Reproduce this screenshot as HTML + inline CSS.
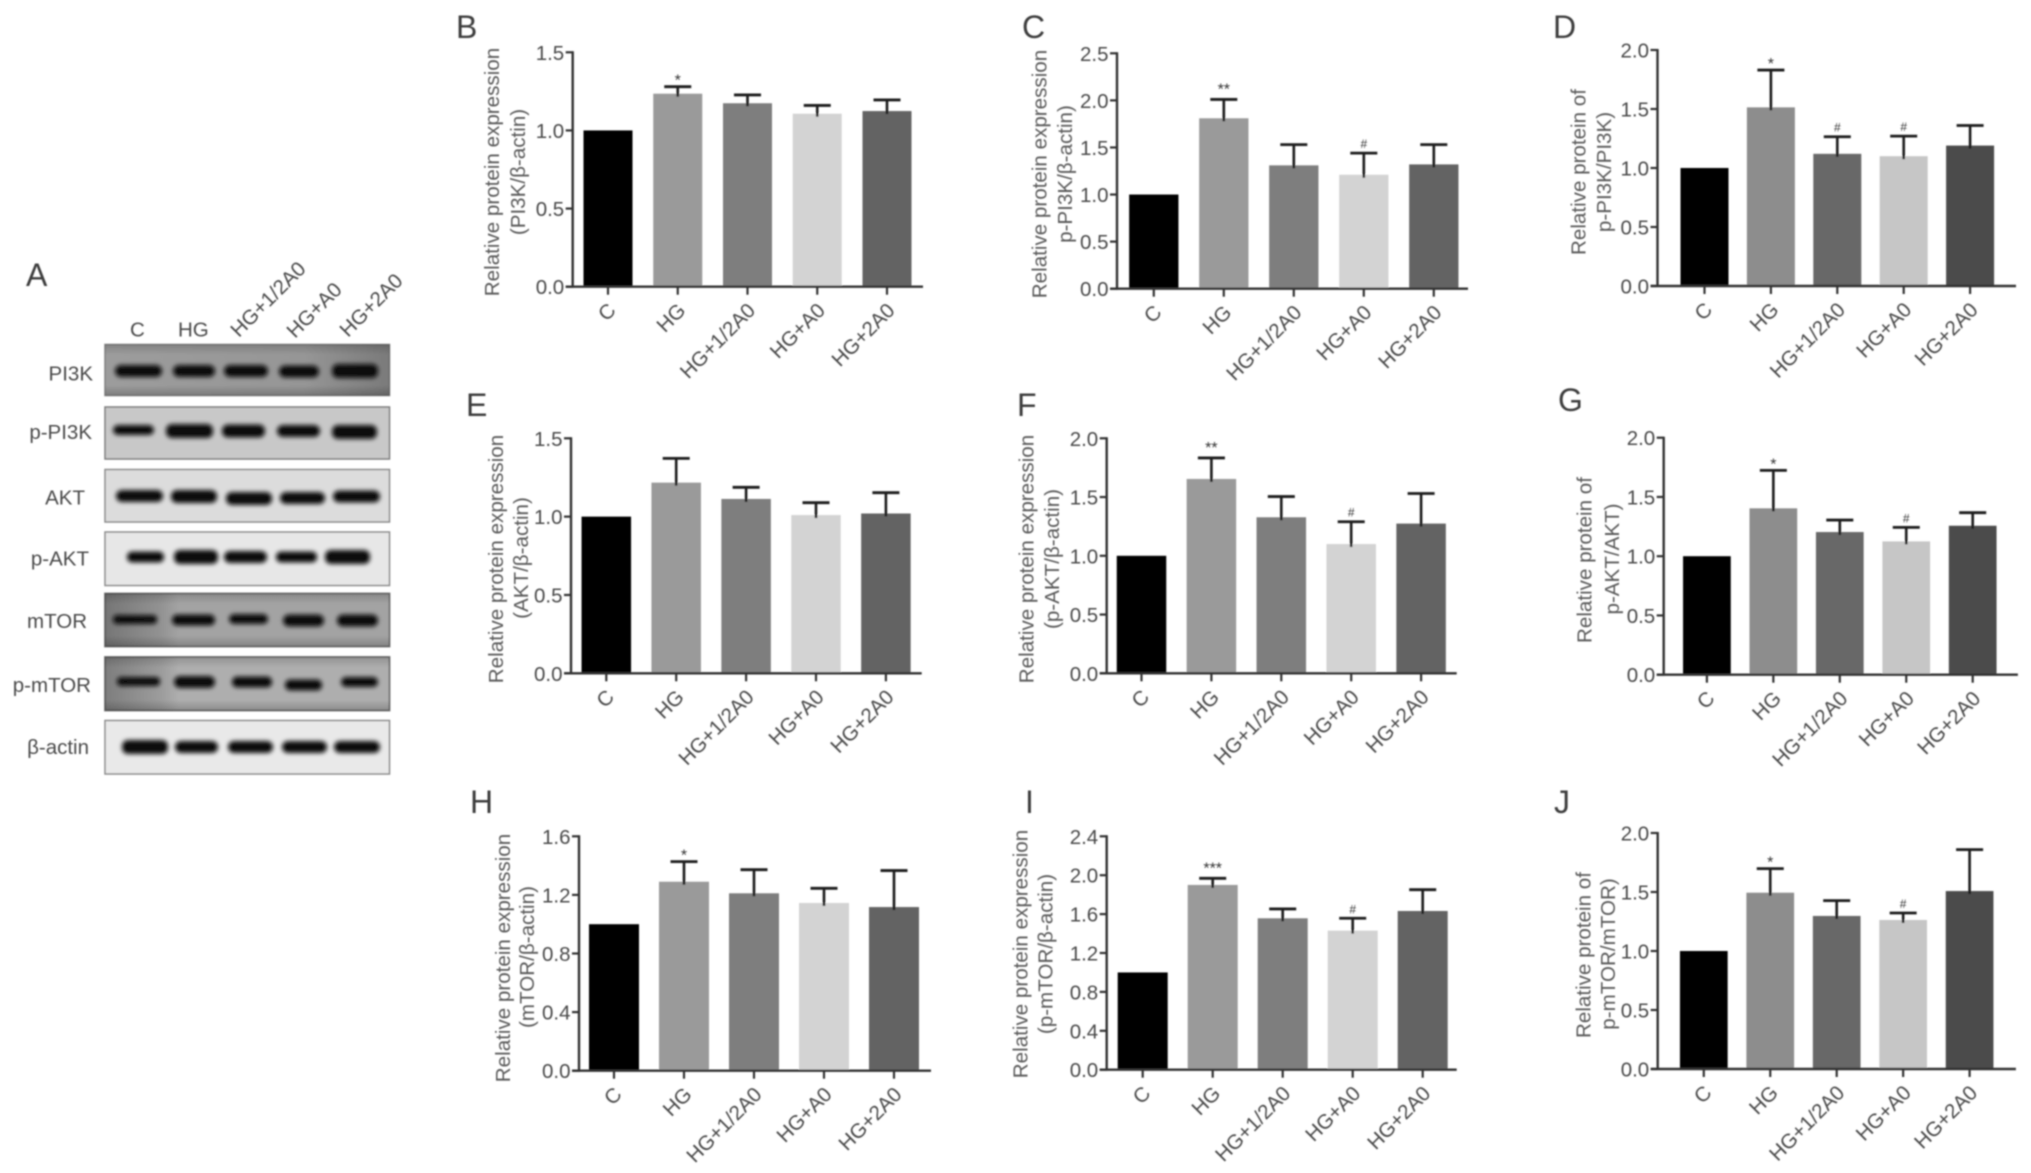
<!DOCTYPE html>
<html lang="en">
<head>
<meta charset="utf-8">
<title>Western blot and relative protein expression charts</title>
<style>
html,body{margin:0;padding:0;background:#fff;}
svg{display:block;}
text{font-family:"Liberation Sans","DejaVu Sans",sans-serif;fill:#4a4a4a;}
.letter{font-size:32px;fill:#3c3c3c;}
.title{font-size:20.6px;text-anchor:middle;fill:#5a5a5a;}
.tick{font-size:20.5px;}
.blot-label{font-size:20.5px;text-anchor:end;}
</style>
</head>
<body>
<svg id="figure" xmlns="http://www.w3.org/2000/svg" width="2031" height="1173" viewBox="0 0 2031 1173">
<defs>
<filter id="soft" x="-2%" y="-2%" width="104%" height="104%"><feGaussianBlur stdDeviation="0.7"/></filter>
<filter id="band-blur" x="-20%" y="-60%" width="140%" height="220%"><feGaussianBlur stdDeviation="2.2"/></filter>
<linearGradient id="left-dark" x1="0" x2="1" y1="0" y2="0">
<stop offset="0" stop-color="#000" stop-opacity="0.28"/>
<stop offset="0.2" stop-color="#000" stop-opacity="0.1"/>
<stop offset="0.26" stop-color="#000" stop-opacity="0"/>
<stop offset="1" stop-color="#000" stop-opacity="0"/>
</linearGradient>
<linearGradient id="right-dark" x1="0" x2="1" y1="0" y2="0">
<stop offset="0" stop-color="#000" stop-opacity="0"/>
<stop offset="0.7" stop-color="#000" stop-opacity="0.04"/>
<stop offset="1" stop-color="#000" stop-opacity="0.22"/>
</linearGradient>
<linearGradient id="edge-dark" x1="0" x2="0" y1="0" y2="1">
<stop offset="0" stop-color="#000" stop-opacity="0.16"/>
<stop offset="0.2" stop-color="#000" stop-opacity="0"/>
<stop offset="0.8" stop-color="#000" stop-opacity="0"/>
<stop offset="1" stop-color="#000" stop-opacity="0.2"/>
</linearGradient>
</defs>
<rect width="2031" height="1173" fill="#fff"/>
<g filter="url(#soft)">

<g>
<text class="letter" x="26" y="286">A</text>
<text class="letter" x="456" y="38">B</text>
<text class="letter" x="1022" y="38">C</text>
<text class="letter" x="1553" y="38">D</text>
<text class="letter" x="466" y="416">E</text>
<text class="letter" x="1017" y="416">F</text>
<text class="letter" x="1558" y="411">G</text>
<text class="letter" x="470" y="813">H</text>
<text class="letter" x="1025" y="813">I</text>
<text class="letter" x="1554" y="813">J</text>
</g>

<g>
<text class="tick" x="130" y="336.5">C</text>
<text class="tick" x="178" y="336.5">HG</text>
<text class="tick" text-anchor="end" transform="translate(307,270) rotate(-45)">HG+1/2A0</text>
<text class="tick" text-anchor="end" transform="translate(343,291) rotate(-45)">HG+A0</text>
<text class="tick" text-anchor="end" transform="translate(404,282) rotate(-45)">HG+2A0</text>

<text class="blot-label" x="93" y="380.5">PI3K</text>
<text class="blot-label" x="92" y="439">p-PI3K</text>
<text class="blot-label" x="85" y="504.5">AKT</text>
<text class="blot-label" x="89" y="565.5">p-AKT</text>
<text class="blot-label" x="87" y="628">mTOR</text>
<text class="blot-label" x="91" y="692">p-mTOR</text>
<text class="blot-label" x="89" y="754">β-actin</text>

<rect x="105" y="344.5" width="284.5" height="51" fill="#9c9c9c" stroke="#808080" stroke-width="1.5"/>
<rect x="105" y="344.5" width="284.5" height="51" fill="url(#edge-dark)"/>
<rect x="105" y="344.5" width="284.5" height="51" fill="url(#right-dark)"/>
<rect x="105" y="407" width="284.5" height="52" fill="#c8c8c8" stroke="#7c7c7c" stroke-width="1.5"/>
<rect x="105" y="469.5" width="284.5" height="52.5" fill="#dcdcdc" stroke="#8a8a8a" stroke-width="1.5"/>
<rect x="105" y="532" width="284.5" height="53.5" fill="#e7e7e7" stroke="#8a8a8a" stroke-width="1.5"/>
<rect x="105" y="593.5" width="284.5" height="53" fill="#a3a3a3" stroke="#707070" stroke-width="1.8"/>
<rect x="105" y="593.5" width="284.5" height="53" fill="url(#edge-dark)"/>
<rect x="105" y="593.5" width="284.5" height="53" fill="url(#left-dark)"/>
<rect x="105" y="657" width="284.5" height="53.5" fill="#aeaeae" stroke="#707070" stroke-width="1.8"/>
<rect x="105" y="657" width="284.5" height="53.5" fill="url(#edge-dark)"/>
<rect x="105" y="657" width="284.5" height="53.5" fill="url(#left-dark)"/>
<rect x="105" y="720.5" width="284.5" height="53.5" fill="#e9e9e9" stroke="#8a8a8a" stroke-width="1.5"/>

<g fill="#0a0a0a" filter="url(#band-blur)">
<rect x="115" y="365" width="47" height="12" rx="6"/>
<rect x="173" y="365" width="42" height="12" rx="6"/>
<rect x="224" y="365" width="44" height="12" rx="6"/>
<rect x="279" y="365.5" width="40" height="12" rx="6"/>
<rect x="332" y="364" width="46" height="14" rx="6"/>
<rect x="113" y="425" width="41" height="10" rx="5"/>
<rect x="166" y="424" width="47" height="14" rx="6"/>
<rect x="222" y="424.5" width="43" height="13" rx="6"/>
<rect x="277" y="425" width="43" height="12" rx="6"/>
<rect x="332" y="425" width="45" height="14" rx="6"/>
<rect x="116" y="490" width="47" height="12" rx="6"/>
<rect x="171" y="490" width="46" height="13" rx="6"/>
<rect x="226" y="492" width="46" height="13" rx="6"/>
<rect x="280" y="492" width="45" height="12" rx="6"/>
<rect x="333" y="490.5" width="47" height="12" rx="6"/>
<rect x="127" y="551.5" width="37" height="11" rx="5"/>
<rect x="174" y="550" width="44" height="14" rx="6"/>
<rect x="224" y="551" width="43" height="12" rx="6"/>
<rect x="276" y="551.5" width="41" height="11" rx="5"/>
<rect x="325" y="550" width="45" height="14" rx="6"/>
<rect x="113" y="615" width="44" height="9" rx="4"/>
<rect x="172" y="614.5" width="43" height="11" rx="5"/>
<rect x="229" y="614" width="39" height="10" rx="5"/>
<rect x="283" y="614.5" width="41" height="12" rx="6"/>
<rect x="337" y="614.5" width="41" height="12" rx="6"/>
<rect x="117" y="677" width="43" height="9" rx="4"/>
<rect x="174" y="676" width="41" height="12" rx="6"/>
<rect x="232" y="676.5" width="40" height="11" rx="5"/>
<rect x="285" y="679.5" width="37" height="11" rx="5"/>
<rect x="341" y="677" width="37" height="10" rx="5"/>
<rect x="122" y="740" width="46" height="14" rx="6"/>
<rect x="175" y="741" width="43" height="12" rx="6"/>
<rect x="228" y="741" width="45" height="12" rx="6"/>
<rect x="282" y="741" width="45" height="12" rx="6"/>
<rect x="334" y="741" width="46" height="12" rx="6"/>
</g>
</g>

<g>
<text class="title" transform="translate(499,172) rotate(-90)">Relative protein expression</text>
<text class="title" transform="translate(525,172) rotate(-90)">(PI3K/β-actin)</text>
<text class="title" transform="translate(1046.5,174) rotate(-90)">Relative protein expression</text>
<text class="title" transform="translate(1072,174) rotate(-90)">p-PI3K/β-actin)</text>
<text class="title" transform="translate(1585.6,172) rotate(-90)">Relative protein of</text>
<text class="title" transform="translate(1611,172) rotate(-90)">p-PI3K/PI3K)</text>
<text class="title" transform="translate(503,559) rotate(-90)">Relative protein expression</text>
<text class="title" transform="translate(528,558) rotate(-90)">(AKT/β-actin)</text>
<text class="title" transform="translate(1033.5,559) rotate(-90)">Relative protein expression</text>
<text class="title" transform="translate(1059,559) rotate(-90)">(p-AKT/β-actin)</text>
<text class="title" transform="translate(1591.6,560) rotate(-90)">Relative protein of</text>
<text class="title" transform="translate(1619,559) rotate(-90)">p-AKT/AKT)</text>
<text class="title" transform="translate(510,958) rotate(-90)">Relative protein expression</text>
<text class="title" transform="translate(534,957) rotate(-90)">(mTOR/β-actin)</text>
<text class="title" transform="translate(1027.4,954) rotate(-90)">Relative protein expression</text>
<text class="title" transform="translate(1052.5,954) rotate(-90)">(p-mTOR/β-actin)</text>
<text class="title" transform="translate(1590.6,955) rotate(-90)">Relative protein of</text>
<text class="title" transform="translate(1615,954) rotate(-90)">p-mTOR/mTOR)</text>
</g>

<g id="charts"></g>
</g>
</svg>

<script>
const categories = ['C', 'HG', 'HG+1/2A0', 'HG+A0', 'HG+2A0'];

const ticksB = ['0.0', '0.5', '1.0', '1.5'];
const valuesB = [1.0, 1.235, 1.174, 1.107, 1.124];
const errorsB = [0, 0.045, 0.053, 0.053, 0.071];
const marksB = ['', '*', '', '', ''];

const ticksC = ['0.0', '0.5', '1.0', '1.5', '2.0', '2.5'];
const valuesC = [1.0, 1.81, 1.31, 1.21, 1.32];
const errorsC = [0, 0.2, 0.22, 0.23, 0.21];
const marksC = ['', '**', '', '#', ''];

const ticksD = ['0.0', '0.5', '1.0', '1.5', '2.0'];
const valuesD = [1.0, 1.514, 1.12, 1.10, 1.19];
const errorsD = [0, 0.316, 0.145, 0.17, 0.17];
const marksD = ['', '*', '#', '#', ''];

const ticksE = ['0.0', '0.5', '1.0', '1.5'];
const valuesE = [1.0, 1.217, 1.113, 1.01, 1.02];
const errorsE = [0, 0.155, 0.074, 0.079, 0.133];
const marksE = ['', '', '', '', ''];

const ticksF = ['0.0', '0.5', '1.0', '1.5', '2.0'];
const valuesF = [1.0, 1.654, 1.328, 1.10, 1.274];
const errorsF = [0, 0.179, 0.176, 0.19, 0.256];
const marksF = ['', '**', '', '#', ''];

const ticksG = ['0.0', '0.5', '1.0', '1.5', '2.0'];
const valuesG = [1.0, 1.404, 1.204, 1.125, 1.257];
const errorsG = [0, 0.32, 0.101, 0.118, 0.11];
const marksG = ['', '*', '', '#', ''];

const ticksH = ['0.0', '0.4', '0.8', '1.2', '1.6'];
const valuesH = [1.0, 1.29, 1.211, 1.145, 1.117];
const errorsH = [0, 0.137, 0.161, 0.1, 0.249];
const marksH = ['', '*', '', '', ''];

const ticksI = ['0.0', '0.4', '0.8', '1.2', '1.6', '2.0', '2.4'];
const valuesI = [1.0, 1.9, 1.557, 1.43, 1.632];
const errorsI = [0, 0.068, 0.096, 0.127, 0.219];
const marksI = ['', '***', '', '#', ''];

const ticksJ = ['0.0', '0.5', '1.0', '1.5', '2.0'];
const valuesJ = [1.0, 1.494, 1.297, 1.263, 1.508];
const errorsJ = [0, 0.204, 0.13, 0.059, 0.351];
const marksJ = ['', '*', '', '#', ''];

const paletteLight = ['#000000', '#9a9a9a', '#7e7e7e', '#d3d3d3', '#636363'];
const paletteDark = ['#000000', '#8d8d8d', '#686868', '#c6c6c6', '#4b4b4b'];

const panels = [
  {id: 'b', ticks: ticksB, values: valuesB, errors: errorsB, marks: marksB, palette: paletteLight, axisX: 572.7, top: 52.3, base: 286.7, right: 923, first: 608, step: 69.75, barW: 49},
  {id: 'c', ticks: ticksC, values: valuesC, errors: errorsC, marks: marksC, palette: paletteLight, axisX: 1117, top: 53.3, base: 288.7, right: 1468, first: 1153.8, step: 70, barW: 49.3},
  {id: 'd', ticks: ticksD, values: valuesD, errors: errorsD, marks: marksD, palette: paletteDark, axisX: 1657.5, top: 50, base: 286, right: 2016, first: 1704.5, step: 66.4, barW: 48},
  {id: 'e', ticks: ticksE, values: valuesE, errors: errorsE, marks: marksE, palette: paletteLight, axisX: 571, top: 438.3, base: 673.3, right: 921.7, first: 606.3, step: 69.9, barW: 49.5},
  {id: 'f', ticks: ticksF, values: valuesF, errors: errorsF, marks: marksF, palette: paletteLight, axisX: 1106.7, top: 438.3, base: 673.3, right: 1456.7, first: 1141.5, step: 69.9, barW: 49.5},
  {id: 'g', ticks: ticksG, values: valuesG, errors: errorsG, marks: marksG, palette: paletteDark, axisX: 1663.7, top: 437.7, base: 674.7, right: 2017.9, first: 1706.9, step: 66.45, barW: 47.7},
  {id: 'h', ticks: ticksH, values: valuesH, errors: errorsH, marks: marksH, palette: paletteLight, axisX: 579, top: 836.3, base: 1070.7, right: 931, first: 614, step: 70, barW: 50},
  {id: 'i', ticks: ticksI, values: valuesI, errors: errorsI, marks: marksI, palette: paletteLight, axisX: 1106.7, top: 836.3, base: 1069.7, right: 1456.7, first: 1142.7, step: 70, barW: 50},
  {id: 'j', ticks: ticksJ, values: valuesJ, errors: errorsJ, marks: marksJ, palette: paletteDark, axisX: 1657.7, top: 833, base: 1069, right: 2015.9, first: 1703.8, step: 66.45, barW: 47.7}
];

const SVG_NS = 'http://www.w3.org/2000/svg';
const AXIS_COLOR = '#333333';
const ERROR_COLOR = '#1a1a1a';

function svgEl(tag, attrs, parent) {
  const el = document.createElementNS(SVG_NS, tag);
  for (const key in attrs) el.setAttribute(key, attrs[key]);
  parent.appendChild(el);
  return el;
}

function drawPanel(p) {
  const maxValue = parseFloat(p.ticks[p.ticks.length - 1]);
  const yScale = v => p.base - (v / maxValue) * (p.base - p.top);
  const xScale = i => p.first + i * p.step;

  const group = svgEl('g', {}, document.getElementById('charts'));
  
  

  p.values.forEach((value, i) => {
    const bar = svgEl('rect', {
      x: xScale(i) - p.barW / 2,
      y: yScale(value),
      width: p.barW,
      height: p.base - yScale(value),
      fill: p.palette[i]
    }, group);
    
    

    if (p.errors[i] > 0) {
      const tipY = yScale(value + p.errors[i]);
      const stem = svgEl('line', {
        x1: xScale(i), x2: xScale(i),
        y1: yScale(value) + 3, y2: tipY,
        stroke: ERROR_COLOR, 'stroke-width': 2.6
      }, group);
      
      

      const cap = svgEl('line', {
        x1: xScale(i) - 13.5, x2: xScale(i) + 13.5,
        y1: tipY, y2: tipY,
        stroke: ERROR_COLOR, 'stroke-width': 2.8
      }, group);
      
      

      if (p.marks[i]) {
        const isHash = p.marks[i] === '#';
        const note = svgEl('text', {
          x: xScale(i),
          y: isHash ? tipY - 5 : tipY + (p.marks[i].length > 1 ? -5 : -1),
          'text-anchor': 'middle',
          'font-size': isHash ? 12 : 16,
          style: 'fill:#333'
        }, group);
        note.textContent = p.marks[i];
        
        
      }
    }

    const tick = svgEl('line', {
      x1: xScale(i), x2: xScale(i),
      y1: p.base, y2: p.base + 8,
      stroke: AXIS_COLOR, 'stroke-width': 2.2
    }, group);
    
    

    const label = svgEl('text', {
      class: 'tick',
      'text-anchor': 'end',
      transform: 'translate(' + (xScale(i) + 9) + ',' + (p.base + 25) + ') rotate(-45)'
    }, group);
    label.textContent = categories[i];
    
    
  });

  const yAxis = svgEl('line', {
    x1: p.axisX, x2: p.axisX, y1: p.top - 1, y2: p.base + 1,
    stroke: AXIS_COLOR, 'stroke-width': 2.4
  }, group);
  
  

  const xAxis = svgEl('line', {
    x1: p.axisX - 7, x2: p.right, y1: p.base, y2: p.base,
    stroke: AXIS_COLOR, 'stroke-width': 2.4
  }, group);
  
  

  p.ticks.forEach((tickText, i) => {
    const y = yScale(parseFloat(tickText));
    const tick = svgEl('line', {
      x1: p.axisX - 7, x2: p.axisX, y1: y, y2: y,
      stroke: AXIS_COLOR, 'stroke-width': 2.2
    }, group);
    
    

    const label = svgEl('text', {
      class: 'tick',
      x: p.axisX - 8.5,
      y: y + 7.5,
      'text-anchor': 'end'
    }, group);
    label.textContent = tickText;
    
    
  });
}

panels.forEach(drawPanel);
</script>
</body>
</html>
